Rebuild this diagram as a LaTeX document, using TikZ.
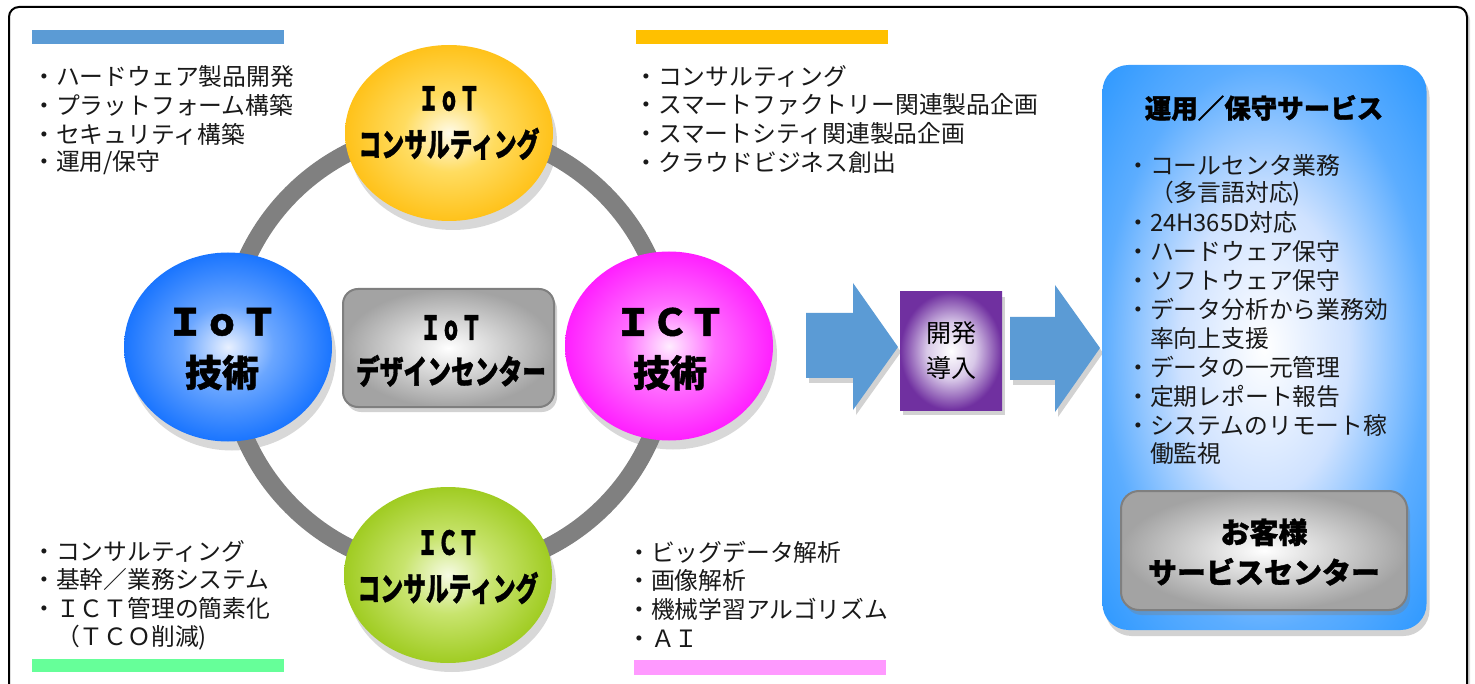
\documentclass[tikz,border=0pt]{standalone}
\usepackage{fontspec}
\setmainfont{Noto Sans CJK JP}
\newfontfamily\heavyjp{Noto Sans CJK JP}[BoldFeatures={FakeBold=1.2}]
\usetikzlibrary{shapes.geometric,shadows}
\definecolor{barBlue}{HTML}{5B9BD5}
\definecolor{barOrange}{HTML}{FFC000}
\definecolor{barGreen}{HTML}{66FF99}
\definecolor{barPink}{HTML}{FF99FF}
\definecolor{ringGray}{HTML}{808080}
\definecolor{arrowBlue}{HTML}{5B9BD5}
\definecolor{boxBorder}{HTML}{7F7F7F}
\definecolor{yIn}{HTML}{FFFBE8}
\definecolor{yMid}{HTML}{FFDC60}
\definecolor{yOut}{HTML}{FFC21A}
\definecolor{bIn}{HTML}{E8F0FF}
\definecolor{bMid}{HTML}{6AA6FF}
\definecolor{bOut}{HTML}{1A75FF}
\definecolor{pIn}{HTML}{FFECFF}
\definecolor{pMid}{HTML}{FF6EFF}
\definecolor{pOut}{HTML}{FF1FFF}
\definecolor{gIn}{HTML}{F6FBE4}
\definecolor{gMid}{HTML}{C8E46E}
\definecolor{gOut}{HTML}{A0CC22}
\definecolor{grOut}{HTML}{A3A3A3}
\definecolor{puMid}{HTML}{D8C8E8}
\definecolor{puOut}{HTML}{7030A0}
\definecolor{svMid}{HTML}{CFE2FF}
\definecolor{svEdge}{HTML}{5CADFF}
\definecolor{svOut}{HTML}{2F99FF}
\pgfdeclareradialshading{yball}{\pgfpoint{0bp}{0bp}}{color(0bp)=(yIn); color(11bp)=(yMid); color(25bp)=(yOut); color(50bp)=(yOut)}
\pgfdeclareradialshading{bball}{\pgfpoint{0bp}{0bp}}{color(0bp)=(bIn); color(11bp)=(bMid); color(25bp)=(bOut); color(50bp)=(bOut)}
\pgfdeclareradialshading{pball}{\pgfpoint{0bp}{0bp}}{color(0bp)=(pIn); color(11bp)=(pMid); color(25bp)=(pOut); color(50bp)=(pOut)}
\pgfdeclareradialshading{gball}{\pgfpoint{0bp}{0bp}}{color(0bp)=(gIn); color(11bp)=(gMid); color(25bp)=(gOut); color(50bp)=(gOut)}
\pgfdeclareradialshading{grayshade}{\pgfpoint{0bp}{0bp}}{color(0bp)=(white); color(25bp)=(grOut); color(50bp)=(grOut)}
\pgfdeclareradialshading{purpleshade}{\pgfpoint{0bp}{0bp}}{color(0bp)=(white); color(12bp)=(puMid); color(25bp)=(puOut); color(50bp)=(puOut)}
\pgfdeclareradialshading{panelshade}{\pgfpoint{0bp}{0bp}}{color(0bp)=(white); color(13bp)=(svMid); color(25bp)=(svEdge); color(35bp)=(svOut); color(50bp)=(svOut)}
\begin{document}
\begin{tikzpicture}[x=1pt,y=-1pt,
  listtext/.style={font=\fontsize{23.8}{29}\selectfont, anchor=west, inner sep=0pt, text=black!90},
  ball/.style={ellipse, minimum width=208pt, inner sep=0pt,
    drop shadow={shadow xshift=4pt, shadow yshift=-9pt, opacity=.3}},
  balltext/.style={align=center, inner sep=0pt, text=black},
  graybox/.style={rectangle, draw=boxBorder, line width=2pt, shading=grayshade,
    drop shadow={shadow xshift=3pt, shadow yshift=-5pt, opacity=.35}},
  bigarrow/.style={fill=arrowBlue, drop shadow={shadow xshift=3pt, shadow yshift=-5pt, opacity=.35}},
]
\useasboundingbox (0,0) rectangle (1475,684);
% outer frame
\begin{scope}
\clip (0,0) rectangle (1475,684);
\draw[line width=2pt, rounded corners=10pt, fill=white,
  drop shadow={shadow xshift=3pt, shadow yshift=-3pt, opacity=.3}] (9,7) rectangle (1467,720);
\end{scope}
% colour bars
\fill[barBlue] (32,30) rectangle (284,44);
\fill[barOrange] (636,30) rectangle (888,44);
\fill[barGreen] (32,659) rectangle (284,672);
\fill[barPink] (634,660) rectangle (886,675);
% lists
\foreach \t [count=\i] in {・ハードウェア製品開発,・プラットフォーム構築,・セキュリティ構築,・運用/保守}
  \node[listtext] (tl\i) at (32,{77+28.7*(\i-1)}) {\t};
\foreach \t [count=\i] in {・コンサルティング,・スマートファクトリー関連製品企画,・スマートシティ関連製品企画,・クラウドビジネス創出}
  \node[listtext] (tr\i) at (634,{76+28.9*(\i-1)}) {\t};
\foreach \t [count=\i] in {・コンサルティング,・基幹／業務システム,・ＩＣＴ管理の簡素化,　（ＴＣＯ削減)}
  \node[listtext] (bl\i) at (32,{551+28.9*(\i-1)}) {\t};
\foreach \t [count=\i] in {・ビッグデータ解析,・画像解析,・機械学習アルゴリズム,・ＡＩ}
  \node[listtext] (br\i) at (627,{552+28.9*(\i-1)}) {\t};
% ring
\draw[line width=18pt, ringGray] (448,350) circle[radius=221];
% balls
\node[ball, minimum height=176pt, shading=yball] (cTop) at (449,133) {};
\node[ball, minimum height=189pt, shading=bball] (cLeft) at (228,347) {};
\node[ball, minimum height=189pt, shading=pball] (cRight) at (669,346) {};
\node[ball, minimum height=176pt, shading=gball] (cBot) at (448,575) {};
\node[balltext, font=\heavyjp\bfseries\fontsize{33}{46}\selectfont] (tTop) at (449,123)
  {\scalebox{.62}[1]{ＩｏＴ}\\\scalebox{.69}[1]{コンサルティング}};
\node[balltext, font=\heavyjp\bfseries\fontsize{33}{46}\selectfont] (tBot) at (448,567)
  {\scalebox{.62}[1]{ＩＣＴ}\\\scalebox{.69}[1]{コンサルティング}};
\node[balltext, font=\heavyjp\bfseries\fontsize{37}{51}\selectfont] (tLeft) at (222,349)
  {ＩｏＴ\\技術};
\node[balltext, font=\heavyjp\bfseries\fontsize{37}{51}\selectfont] (tRight) at (670,349)
  {ＩＣＴ\\技術};
% centre box
\node[graybox, rounded corners=15pt, minimum width=211pt, minimum height=118pt] (idc) at (448.5,348) {};
\node[balltext, font=\heavyjp\bfseries\fontsize{33}{44}\selectfont] (idcT) at (451,351)
  {\scalebox{.62}[1]{ＩｏＴ}\\\scalebox{.72}[1]{デザインセンター}};
% arrows and development box
\fill[bigarrow] (806,313) -- (853,313) -- (853,283) -- (898,347) -- (853,410) -- (853,378) -- (806,378) -- cycle;
\node[rectangle, shading=purpleshade, minimum width=102pt, minimum height=118pt, inner sep=0pt,
  drop shadow={shadow xshift=3pt, shadow yshift=-5pt, opacity=.35}] (dev) at (951,351) {};
\node[balltext, font=\fontsize{25}{35}\selectfont] (devT) at (951,351) {開発\\導入};
\fill[bigarrow] (1010,317) -- (1055,317) -- (1055,285) -- (1100,348) -- (1055,412) -- (1055,380) -- (1010,380) -- cycle;
% service panel
\node[rectangle, rounded corners=26pt, shading=panelshade, minimum width=324pt, minimum height=565pt,
  drop shadow={shadow xshift=3pt, shadow yshift=-6pt, opacity=.35}] (svc) at (1264.5,347.5) {};
\node[balltext, font=\heavyjp\bfseries\fontsize{26.5}{30}\selectfont] (svcT) at (1264,108) {運用／保守サービス};
\foreach \t [count=\i] in {・コールセンタ業務,　（多言語対応),・24H365D対応,・ハードウェア保守,・ソフトウェア保守,・データ分析から業務効,　率向上支援,・データの一元管理,・定期レポート報告,・システムのリモート稼,　働監視}
  \node[listtext] (sv\i) at (1126,{165+28.9*(\i-1)}) {\t};
\node[graybox, rounded corners=18pt, minimum width=286pt, minimum height=119pt] (csc) at (1264,550.5) {};
\node[balltext, font=\heavyjp\bfseries\fontsize{29}{40}\selectfont] (cscT) at (1264,552) {お客様\\サービスセンター};
\end{tikzpicture}
\end{document}
